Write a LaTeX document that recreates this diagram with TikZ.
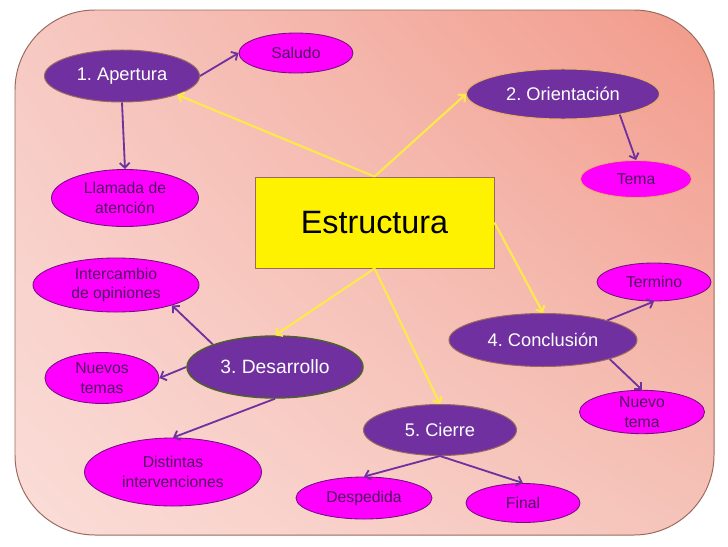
\documentclass[tikz,border=0pt]{standalone}
\usepackage{fontspec}
\setmainfont{Liberation Sans}
\frenchspacing
\usetikzlibrary{positioning,shapes.geometric,arrows.meta,shadings}
\definecolor{fondoA}{HTML}{FBDDD8}
\definecolor{fondoB}{HTML}{F6C9C2}
\definecolor{fondoC}{HTML}{F29A8A}
\definecolor{fondoD}{HTML}{F5C3B9}
\definecolor{borde}{HTML}{9A6A5C}
\definecolor{morado}{HTML}{7030A0}
\definecolor{rosa}{HTML}{FF00FF}
\definecolor{letra}{HTML}{501060}
\definecolor{amarillo}{HTML}{FFE94A}
\definecolor{dorado}{HTML}{E8B060}
\definecolor{verde}{HTML}{4F6228}
\newcommand*{\chico}{\fontsize{11.2}{14}\selectfont}

\begin{document}
\begin{tikzpicture}[x=0.025cm,y=-0.025cm,
  tema/.style={ellipse,draw=dorado,line width=0.7pt,fill=morado,text=white,
    inner sep=0pt,font=\fontsize{13}{15}\selectfont},
  hoja/.style={ellipse,draw=letra!80!rosa,line width=0.6pt,fill=rosa,text=letra,
    inner sep=0pt,align=center,font=\chico},
  raiz/.style={->,>={Straight Barb[length=3.5pt,width=7pt]},amarillo,line width=1.5pt},
  rama/.style={->,>={Straight Barb[length=3.5pt,width=7pt]},morado,line width=1.3pt}]
\useasboundingbox (0,0) rectangle (728,546);
% Background panel
\shade[rounded corners=2cm,draw=borde,line width=0.7pt,
  lower left=fondoA,upper left=fondoB,upper right=fondoC,lower right=fondoD]
  (15,10) rectangle (714,535);
% Centre box
\node[draw=borde,line width=0.6pt,fill=yellow,minimum width=5.975cm,minimum height=2.275cm,
  font=\fontsize{23}{26}\selectfont] (est) at (374.5,222.5) {Estructura};
% Main parts
\node[tema,minimum width=3.875cm,minimum height=1.3cm,draw=borde] (ap) at (122,76) {1. Apertura};
\node[tema,minimum width=4.825cm,minimum height=1.25cm] (ori) at (563,94) {2. Orientación};
\node[tema,minimum width=4.4cm,minimum height=1.55cm,draw=verde,line width=1pt,
  font=\fontsize{13.7}{16}\selectfont] (des) at (275,367) {3. Desarrollo};
\node[tema,minimum width=4.7cm,minimum height=1.325cm,draw=borde] (conc) at (543,340) {4. Conclusión};
\node[tema,minimum width=3.825cm,minimum height=1.275cm,draw=borde] (cie) at (440,430) {5. Cierre};
% Leaves
\node[hoja,minimum width=2.85cm,minimum height=1cm] (sal) at (296,53) {Saludo};
\node[hoja,minimum width=3.675cm,minimum height=1.425cm] (lla) at (125,198) {Llamada de\\atención};
\node[hoja,minimum width=2.775cm,minimum height=0.925cm,draw=dorado] (tem) at (636,179) {Tema};
\node[hoja,minimum width=4.15cm,minimum height=1.35cm] (int) at (116,285) {Intercambio\\de opiniones};
\node[hoja,minimum width=2.85cm,minimum height=1.275cm] (nue) at (102,378) {Nuevos\\temas};
\node[hoja,minimum width=4.425cm,minimum height=1.7cm] (dis) at (173,472) {Distintas\\intervenciones};
\node[hoja,minimum width=2.85cm,minimum height=0.95cm] (ter) at (654,282) {Termino};
\node[hoja,minimum width=3.125cm,minimum height=1cm] (nte) at (642,412) {Nuevo\\tema};
\node[hoja,minimum width=3.4cm,minimum height=1.05cm] (desp) at (364,498) {Despedida};
\node[hoja,minimum width=2.85cm,minimum height=0.975cm] (fin) at (523,503) {Final};
% Yellow links from the centre
\draw[raiz] (est.north) -- (ap.south east);
\draw[raiz] (est.north) -- (ori.west);
\draw[raiz] (est.east) -- (conc.north);
\draw[raiz] (est.south) -- (des.north);
\draw[raiz] (est.south) -- (cie.north);
% Purple links to the leaves
\draw[rama] (ap.east) -- (sal.west);
\draw[rama] (ap.south) -- (lla.north);
\draw[rama] (ori.-20) -- (tem.north);
\draw[rama] (des.160) -- (int.-20);
\draw[rama] (des.west) -- (nue.east);
\draw[rama] (des.south) -- (dis.north);
\draw[rama] (conc.17) -- (ter.south);
\draw[rama] (conc.-16) -- (nte.north);
\draw[rama] (cie.south) -- (desp.north);
\draw[rama] (cie.south) -- (fin.north);
\end{tikzpicture}
\end{document}
